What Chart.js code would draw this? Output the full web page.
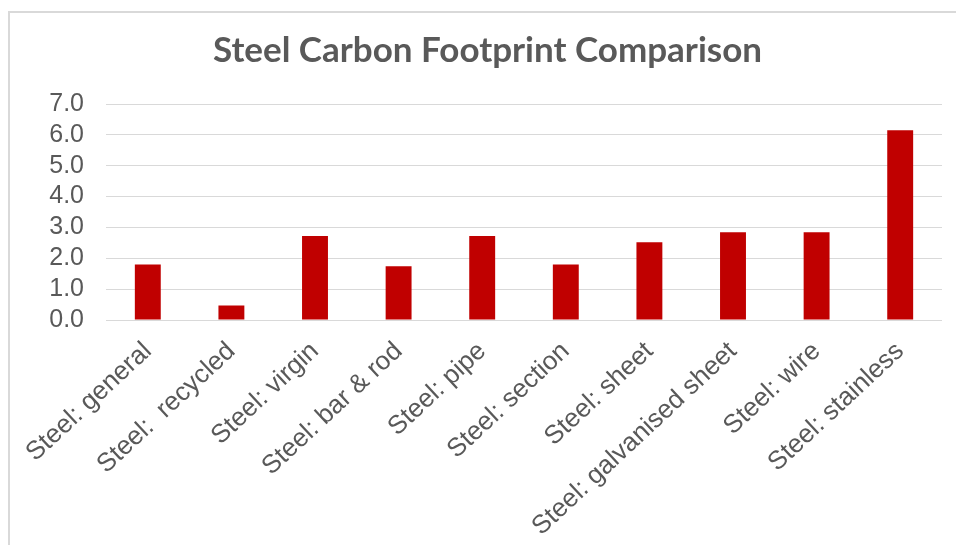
<!DOCTYPE html>
<html>
<head>
<meta charset="utf-8">
<script src="https://cdn.jsdelivr.net/npm/chart.js@4"></script>
<style>
  html, body { margin: 0; padding: 0; background: #ffffff; }
  body { width: 956px; height: 545px; position: relative; overflow: hidden; }
  #frame {
    position: absolute; left: 8px; top: 11px; width: 980px; height: 560px;
    border: 2px solid #d9d9d9; box-sizing: border-box;
  }
  #wrap { position: absolute; left: 0; top: 0; width: 956px; height: 545px; }
</style>
</head>
<body>
<div id="frame"></div>
<div id="wrap"><canvas id="chart" width="956" height="545"></canvas></div>
<script>
// Embodied carbon of steel products (kgCO2 per kg)
const categories = [
  'Steel: general',
  'Steel:  recycled',
  'Steel: virgin',
  'Steel: bar & rod',
  'Steel: pipe',
  'Steel: section',
  'Steel: sheet',
  'Steel: galvanised sheet',
  'Steel: wire',
  'Steel: stainless'
];
const footprint = [1.80, 0.47, 2.72, 1.74, 2.72, 1.80, 2.52, 2.84, 2.84, 6.15];
const yMin = 0;
const yMax = 7;
const yStep = 1;

const textGrey = '#595959';
const gridGrey = '#d9d9d9';

new Chart(document.getElementById('chart'), {
  type: 'bar',
  data: {
    labels: categories,
    datasets: [{
      label: 'Carbon footprint',
      data: footprint,
      backgroundColor: '#c00000',
      borderWidth: 0,
      categoryPercentage: 1.0,
      barPercentage: 0.31
    }]
  },
  options: {
    responsive: false,
    animation: false,
    devicePixelRatio: 1,
    layout: { padding: { left: 33, right: 14, top: 0, bottom: 0 } },
    plugins: {
      legend: { display: false },
      tooltip: { enabled: false },
      title: {
        display: true,
        text: 'Steel Carbon Footprint Comparison',
        color: textGrey,
        font: { family: 'Lato', size: 35, weight: 'bold' },
        padding: { top: 30, bottom: 32 }
      }
    },
    scales: {
      x: {
        grid: { display: false },
        border: { display: false },
        ticks: {
          color: textGrey,
          font: { family: 'Liberation Sans', size: 26 },
          minRotation: 43,
          maxRotation: 43,
          autoSkip: false,
          padding: 8
        },
        afterFit: (scale) => { scale.height = 225; }
      },
      y: {
        min: yMin,
        max: yMax,
        grid: { color: gridGrey, lineWidth: 1, drawTicks: false },
        border: { display: false },
        ticks: {
          stepSize: yStep,
          autoSkip: false,
          color: textGrey,
          font: { family: 'Liberation Sans', size: 25 },
          padding: 22,
          callback: (v) => Number(v).toFixed(1)
        },
        afterFit: (scale) => { scale.width = 73; }
      }
    }
  }
});
</script>
</body>
</html>
